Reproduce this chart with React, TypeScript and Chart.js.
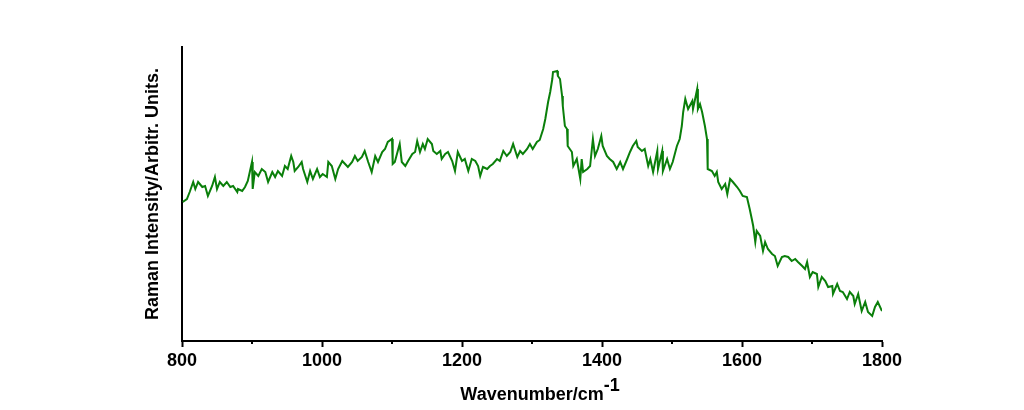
import React, { useEffect, useRef } from "react";
import { Chart, registerables } from "chart.js";

Chart.register(...registerables);

const wavenumbers = [801,807,811,816,819,823,829,833,837,843,847,850,854,859,864,869,873,879,880,886,890,894,900,901,904,909,914,919,923,929,933,937,943,947,951,956,959,961,966,971,973,979,983,987,993,997,1001,1007,1009,1014,1019,1023,1029,1033,1037,1043,1047,1051,1057,1061,1066,1071,1076,1080,1086,1090,1094,1100,1101,1104,1109,1111,1114,1119,1123,1129,1133,1136,1140,1144,1147,1151,1157,1159,1164,1169,1171,1176,1180,1186,1190,1194,1200,1204,1209,1214,1219,1223,1226,1230,1236,1240,1244,1250,1254,1259,1264,1269,1273,1279,1283,1287,1293,1297,1301,1307,1311,1316,1319,1323,1326,1329,1330,1336,1337,1340,1343,1344,1347,1350,1351,1357,1359,1364,1369,1371,1373,1379,1383,1387,1390,1394,1399,1401,1407,1411,1416,1421,1426,1430,1436,1440,1444,1449,1451,1457,1461,1466,1469,1473,1479,1480,1486,1487,1493,1497,1501,1507,1511,1514,1516,1519,1523,1529,1530,1533,1536,1537,1540,1543,1547,1550,1551,1557,1561,1564,1566,1571,1576,1579,1583,1587,1593,1597,1601,1607,1611,1614,1616,1619,1621,1626,1630,1633,1637,1643,1647,1651,1657,1661,1666,1671,1676,1680,1686,1690,1693,1697,1701,1707,1709,1714,1719,1723,1729,1730,1736,1740,1744,1750,1754,1759,1761,1766,1771,1776,1780,1786,1790,1794,1800];

const intensity = [139,142,149,159,152,159,154,155,145,155,164,152,159,155,159,154,155,149,152,150,154,160,179,152,169,165,172,169,159,169,164,170,165,175,172,185,179,170,174,179,172,159,170,162,172,164,167,164,179,175,162,172,180,177,174,179,185,180,184,190,179,169,185,179,189,192,199,202,177,179,192,197,179,175,180,187,189,200,189,197,192,202,197,190,187,190,182,187,189,180,170,189,180,182,170,182,180,175,165,174,172,175,177,182,180,190,185,189,197,184,190,187,192,197,192,199,201,212,222,239,249,262,269,270,265,262,245,235,215,212,195,189,175,182,162,182,169,172,175,202,185,192,205,195,185,182,179,172,179,172,182,189,195,200,194,190,192,175,182,169,190,172,190,170,182,172,179,195,202,215,229,242,232,240,232,242,252,232,237,229,215,202,172,170,165,169,159,152,157,147,162,159,154,150,145,144,132,122,115,99,110,105,90,99,92,87,85,75,84,85,84,80,82,79,75,72,79,64,69,67,54,64,60,54,55,47,57,50,49,42,49,45,37,47,30,39,29,25,34,39,30];

const xTickValues = [800, 1000, 1200, 1400, 1600, 1800];
const xMinorTicks = [900, 1100, 1300, 1500, 1700];
const xTitle = "Wavenumber/cm";
const xTitleSup = "-1";
const yTitle = "Raman Intensity/Arbitr. Units.";

const FONT = "'Liberation Sans', Arial, sans-serif";

export default function App() {
  const ref = useRef<HTMLCanvasElement | null>(null);
  useEffect(() => {
    if (!ref.current) return;
    const extras = {
      id: "extras",
      afterDraw(chart: any) {
        const ctx = chart.ctx;
        const xs = chart.scales.x;
        const area = chart.chartArea;
        ctx.save();
        ctx.strokeStyle = "#000";
        ctx.lineWidth = 2;
        xMinorTicks.forEach((v) => {
          const px = Math.round(xs.getPixelForValue(v));
          ctx.beginPath();
          ctx.moveTo(px, area.bottom);
          ctx.lineTo(px, area.bottom + 3);
          ctx.stroke();
        });
        ctx.fillStyle = "#000";
        ctx.font = `bold 18px ${FONT}`;
        ctx.textBaseline = "alphabetic";
        const w = ctx.measureText(xTitle).width;
        const cx = (area.left + area.right) / 2;
        ctx.textAlign = "left";
        ctx.fillText(xTitle, cx - w / 2, 400);
        ctx.fillText(xTitleSup, cx + w / 2, 391);
        ctx.restore();
      },
    };
    const chart = new Chart(ref.current, {
      type: "line",
      data: {
        labels: wavenumbers,
        datasets: [
          {
            data: wavenumbers.map((x, i) => ({ x, y: intensity[i] })),
            borderColor: "#0a7f0a",
            borderWidth: 2,
            pointRadius: 0,
            tension: 0,
            fill: false,
          },
        ],
      },
      options: {
        animation: false,
        responsive: false,
        events: [],
        layout: { padding: { left: 140, right: 142, top: 47, bottom: 0 } },
        plugins: { legend: { display: false }, tooltip: { enabled: false } },
        scales: {
          x: {
            type: "linear",
            min: 800,
            max: 1800,
            afterFit: (s: any) => { s.height = 69; },
            afterBuildTicks: (s: any) => { s.ticks = xTickValues.map((v) => ({ value: v })); },
            grid: { display: true, drawOnChartArea: false, drawTicks: true, tickLength: 6, tickWidth: 2, tickColor: "#000" },
            border: { display: true, color: "#000", width: 2 },
            ticks: {
              color: "#000",
              font: { family: FONT, size: 18, weight: "bold" },
              padding: 3,
              maxRotation: 0,
              autoSkip: false,
              callback: (v: any) => String(v),
            },
            title: { display: false },
          },
          y: {
            type: "linear",
            min: 0,
            max: 294,
            afterFit: (s: any) => { s.width = 42; },
            grid: { display: false },
            border: { display: true, color: "#000", width: 2 },
            ticks: { display: false },
            title: { display: true, text: yTitle, color: "#000", font: { family: FONT, size: 18, weight: "bold" }, padding: { top: 2, bottom: 0 } },
          },
        },
      },
      plugins: [extras],
    } as any);
    return () => chart.destroy();
  }, []);
  return (
    <div style={{ position: "absolute", left: 0, top: 0, width: 1024, height: 410, background: "#fff" }}>
      <canvas ref={ref} width={1024} height={410} style={{ width: 1024, height: 410, display: "block" }} />
    </div>
  );
}
